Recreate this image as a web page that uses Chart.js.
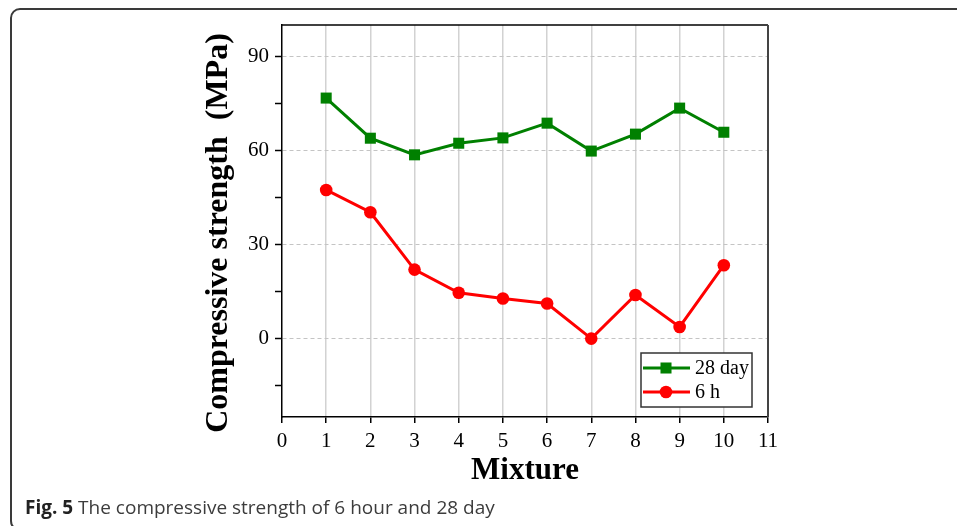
<!DOCTYPE html>
<html>
<head>
<meta charset="utf-8">
<script src="https://cdn.jsdelivr.net/npm/chart.js@4/dist/chart.umd.min.js"></script>
<style>
  html, body { margin: 0; padding: 0; background: #fff; }
  #wrap { position: relative; width: 957px; height: 526px; overflow: hidden; }
  #frame {
    position: absolute; left: 10px; top: 8px; width: 960px; height: 523px;
    box-sizing: border-box; border: 2px solid #3a3a3a; border-radius: 10px;
  }
  #chart { position: absolute; left: 0; top: 0; }
  #caption {
    position: absolute; left: 25px; top: 497px; line-height: 20px;
    font-family: "Open Sans", sans-serif; font-size: 19px; color: #3c3c3c;
    white-space: nowrap;
  }
  #caption b { color: #222; }
</style>
</head>
<body>
<div id="wrap">
  <div id="frame"></div>
  <canvas id="chart" width="957" height="526"></canvas>
  <div id="caption"><b>Fig. 5</b> The compressive strength of 6 hour and 28 day</div>
</div>
<script>
// data
const mixtures = [1, 2, 3, 4, 5, 6, 7, 8, 9, 10];
const day28 = [76.7, 63.9, 58.6, 62.3, 64.0, 68.7, 59.8, 65.2, 73.5, 65.8];
const hour6 = [47.4, 40.3, 22.0, 14.6, 12.8, 11.2, 0.0, 13.9, 3.7, 23.4];
const seriesNames = ["28 day", "6 h"];
const yTicks = [-15, 0, 15, 30, 45, 60, 75, 90];   // minor ticks every 15
const yLabelled = [0, 30, 60, 90];
const xTicks = [0, 1, 2, 3, 4, 5, 6, 7, 8, 9, 10, 11];

const serif = "'Liberation Serif', 'Times New Roman', serif";
const green = "#008000";
const red = "#ff0000";

// top + right frame of the plot and the boxed legend
const framePlugin = {
  id: "framePlugin",
  afterDatasetsDraw(chart) {
    const ctx = chart.ctx;
    const a = chart.chartArea;
    ctx.save();
    ctx.strokeStyle = "#000";
    ctx.lineWidth = 1.5;
    ctx.beginPath();
    ctx.moveTo(a.left, a.top);
    ctx.lineTo(a.right, a.top);
    ctx.stroke();
    ctx.strokeStyle = "#444";
    ctx.lineWidth = 2;
    ctx.beginPath();
    ctx.moveTo(a.right, a.top);
    ctx.lineTo(a.right, a.bottom);
    ctx.stroke();

    // legend box
    const bw = 111, bh = 54;
    const bx = a.right - 16 - bw;
    const by = a.bottom - 10 - bh;
    ctx.fillStyle = "#fff";
    ctx.fillRect(bx, by, bw, bh);
    ctx.strokeStyle = "#333";
    ctx.lineWidth = 1.5;
    ctx.strokeRect(bx, by, bw, bh);

    chart.data.datasets.forEach((ds, i) => {
      const y = by + 15 + i * 24;
      ctx.strokeStyle = ds.borderColor;
      ctx.lineWidth = 3;
      ctx.beginPath();
      ctx.moveTo(bx + 2, y);
      ctx.lineTo(bx + 49, y);
      ctx.stroke();
      ctx.fillStyle = ds.backgroundColor;
      Chart.helpers.drawPoint(ctx, { pointStyle: ds.pointStyle, radius: ds.pointRadius, borderWidth: 0 }, bx + 25, y);
      ctx.fillStyle = "#000";
      ctx.font = "20px " + serif;
      ctx.textBaseline = "middle";
      ctx.textAlign = "left";
      ctx.fillText(ds.label, bx + 54, y + 1);
    });
    ctx.restore();
  }
};

new Chart(document.getElementById("chart"), {
  type: "line",
  data: {
    datasets: [
      {
        label: seriesNames[0],
        data: mixtures.map((m, i) => ({ x: m, y: day28[i] })),
        borderColor: green,
        backgroundColor: green,
        borderWidth: 3,
        pointStyle: "rect",
        pointRadius: 7.8,
        pointBorderWidth: 0,
        tension: 0
      },
      {
        label: seriesNames[1],
        data: mixtures.map((m, i) => ({ x: m, y: hour6[i] })),
        borderColor: red,
        backgroundColor: red,
        borderWidth: 3,
        pointStyle: "circle",
        pointRadius: 6.3,
        pointBorderWidth: 0,
        tension: 0
      }
    ]
  },
  options: {
    responsive: false,
    animation: false,
    layout: { padding: { left: 200, top: 25, right: 189, bottom: 29 } },
    plugins: { legend: { display: false }, tooltip: { enabled: false } },
    scales: {
      x: {
        type: "linear",
        min: 0,
        max: 11,
        afterFit(scale) { scale.height = 80; },
        afterBuildTicks(scale) { scale.ticks = xTicks.map(v => ({ value: v })); },
        border: { display: true, color: "#000", width: 1.5 },
        grid: {
          color: c => (c.tick && c.tick.value > 0 && c.tick.value < 11) ? "#d2d2d2" : "rgba(0,0,0,0)",
          lineWidth: 1.5,
          tickColor: "#000",
          tickLength: 6,
          tickWidth: 1.5
        },
        ticks: {
          color: "#000",
          font: { family: serif, size: 21 },
          padding: 6,
          maxRotation: 0,
          autoSkip: false
        },
        title: {
          display: true,
          text: "Mixture",
          color: "#000",
          font: { family: serif, size: 31, weight: "bold" },
          padding: { top: 0, bottom: 7 }
        }
      },
      y: {
        type: "linear",
        min: -25,
        max: 100,
        afterFit(scale) { scale.width = 82; },
        afterBuildTicks(scale) { scale.ticks = yTicks.map(v => ({ value: v })); },
        // in v4 border.dash dashes the grid lines, the axis line stays solid
        border: { display: true, color: "#000", width: 1.5, dash: [4, 3] },
        grid: {
          color: c => (c.tick && yLabelled.includes(c.tick.value)) ? "#c4c4c4" : "rgba(0,0,0,0)",
          lineWidth: 1,
          tickColor: "#000",
          tickLength: 7,
          tickWidth: 1.5,
          tickBorderDash: []
        },
        ticks: {
          color: "#000",
          font: { family: serif, size: 21 },
          padding: 6,
          autoSkip: false,
          callback: v => yLabelled.includes(v) ? String(v) : ""
        },
        title: {
          display: true,
          text: "Compressive strength  (MPa)   ",
          color: "#000",
          font: { family: serif, size: 32, weight: "bold" },
          padding: { top: 0, bottom: 0 }
        }
      }
    }
  },
  plugins: [framePlugin]
});
</script>
</body>
</html>
